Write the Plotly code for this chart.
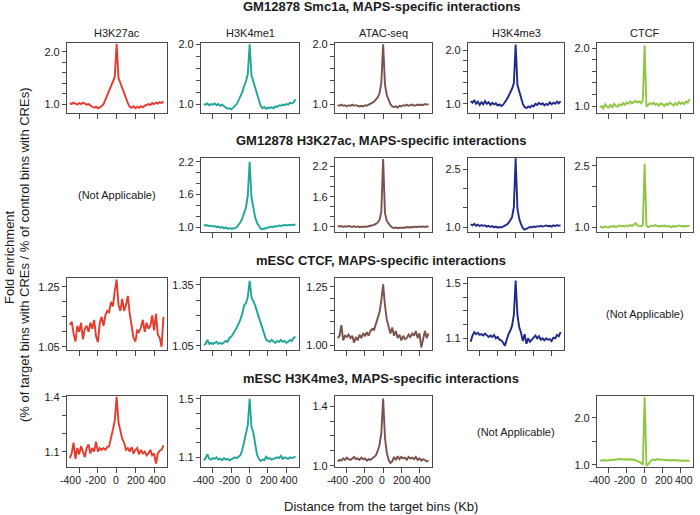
import plotly.graph_objects as go

W, H = 700, 515

# ---------------- data ----------------
x_kb = list(range(-500, 501, 20))
x_tick_vals = [-400, -200, 0, 200, 400]
x_tick_text = ["-400", "-200", "0", "200", "400"]

section_titles = [
    "GM12878 Smc1a, MAPS-specific interactions",
    "GM12878 H3K27ac, MAPS-specific interactions",
    "mESC CTCF, MAPS-specific interactions",
    "mESC H3K4me3, MAPS-specific interactions",
]
column_titles = ["H3K27ac", "H3K4me1", "ATAC-seq", "H3K4me3", "CTCF"]
not_applicable = [(1, 0), (2, 4), (3, 3)]

# GM12878 Smc1a
smc1a_h3k27ac = [1.02, 1.00, 1.03, 1.01, 0.99, 1.02, 1.00, 1.03, 1.01, 0.99, 1.00, 0.97, 0.95, 0.93, 0.95, 0.92, 0.94, 0.96, 1.00, 1.08, 1.17, 1.26, 1.35, 1.43, 1.52, 2.15, 1.50, 1.40, 1.30, 1.20, 1.10, 1.02, 0.95, 0.93, 0.96, 0.92, 0.95, 0.93, 0.96, 0.94, 0.97, 0.99, 1.00, 0.98, 1.02, 1.00, 1.03, 1.01, 1.04, 1.02, 1.05]
smc1a_h3k4me1 = [1.00, 0.99, 1.01, 0.98, 1.00, 0.99, 1.01, 0.98, 1.00, 0.97, 0.99, 0.96, 0.94, 0.92, 0.93, 0.91, 0.95, 0.97, 1.00, 1.06, 1.12, 1.20, 1.30, 1.38, 1.50, 2.00, 1.48, 1.38, 1.28, 1.17, 1.05, 0.97, 0.93, 0.95, 0.92, 0.94, 0.93, 0.95, 0.93, 0.96, 0.95, 0.98, 0.97, 0.99, 0.98, 1.00, 0.99, 1.02, 1.01, 1.03, 1.08]
smc1a_atac = [0.98, 0.97, 0.99, 0.97, 0.98, 0.96, 0.98, 0.97, 0.99, 0.97, 0.98, 0.97, 0.96, 0.97, 0.96, 0.98, 0.97, 0.99, 1.00, 1.02, 1.04, 1.07, 1.11, 1.18, 1.35, 2.00, 1.33, 1.15, 1.06, 1.00, 0.96, 0.95, 0.96, 0.94, 0.97, 0.96, 0.98, 0.97, 0.99, 0.97, 0.98, 0.99, 0.97, 0.98, 0.99, 0.98, 0.99, 0.98, 1.00, 0.99, 1.00]
smc1a_h3k4me3 = [1.05, 1.02, 1.07, 1.00, 1.04, 0.98, 1.03, 0.99, 1.05, 1.00, 1.03, 0.98, 1.02, 0.99, 1.01, 0.97, 0.99, 0.96, 0.98, 1.02, 1.08, 1.14, 1.20, 1.28, 1.38, 2.10, 1.35, 1.22, 1.10, 1.00, 0.94, 0.92, 0.95, 0.93, 0.97, 0.95, 1.00, 0.98, 1.02, 0.99, 1.01, 0.97, 1.00, 0.98, 1.03, 0.99, 1.02, 1.00, 1.04, 1.01, 1.05]
smc1a_ctcf = [0.98, 1.00, 0.96, 1.03, 0.99, 0.97, 1.02, 0.98, 1.04, 1.00, 0.99, 1.03, 1.01, 1.05, 1.02, 1.06, 1.04, 1.08, 1.05, 1.07, 1.09, 1.06, 1.08, 1.05, 1.10, 2.05, 0.99, 1.02, 1.05, 1.03, 1.06, 1.02, 1.04, 1.01, 1.05, 1.03, 1.00, 1.04, 1.02, 1.06, 1.03, 1.01, 1.05, 1.02, 1.07, 1.04, 1.06, 1.03, 1.08, 1.06, 1.12]

# GM12878 H3K27ac
k27_h3k4me1 = [1.04, 1.03, 1.035, 1.02, 1.025, 1.01, 1.02, 1.00, 1.01, 0.99, 1.00, 0.98, 0.99, 0.97, 0.98, 0.97, 0.975, 0.98, 1.00, 1.04, 1.09, 1.16, 1.25, 1.36, 1.58, 2.20, 1.55, 1.32, 1.18, 1.08, 1.02, 0.97, 0.96, 0.97, 0.98, 0.99, 1.00, 1.01, 1.00, 1.02, 1.01, 1.03, 1.02, 1.03, 1.04, 1.03, 1.04, 1.035, 1.045, 1.04, 1.05]
k27_atac = [1.02, 1.01, 1.02, 1.00, 1.015, 1.005, 1.02, 1.01, 1.00, 1.015, 1.00, 1.01, 0.995, 1.005, 1.00, 1.01, 1.00, 1.015, 1.02, 1.03, 1.04, 1.06, 1.09, 1.14, 1.30, 2.35, 1.28, 1.12, 1.06, 1.02, 0.99, 0.98, 0.99, 0.975, 0.985, 0.98, 0.99, 0.985, 1.00, 0.99, 1.00, 0.99, 1.005, 0.995, 1.00, 1.01, 1.00, 1.01, 1.00, 1.01, 1.005]
k27_h3k4me3 = [1.08, 1.05, 1.09, 1.04, 1.07, 1.03, 1.06, 1.04, 1.05, 1.02, 1.04, 1.01, 1.03, 1.00, 1.02, 0.99, 1.01, 1.00, 1.02, 1.04, 1.07, 1.11, 1.17, 1.26, 1.52, 2.78, 1.48, 1.22, 1.08, 0.98, 0.94, 0.96, 0.99, 1.01, 1.00, 1.02, 1.01, 1.03, 1.02, 1.04, 1.02, 1.03, 1.05, 1.03, 1.04, 1.02, 1.05, 1.03, 1.06, 1.04, 1.05]
k27_ctcf = [0.99, 1.01, 0.98, 1.02, 1.00, 0.99, 1.02, 1.01, 1.03, 1.00, 1.02, 1.04, 1.02, 1.03, 1.01, 1.04, 1.02, 1.05, 1.03, 1.06, 1.10, 1.04, 1.03, 1.02, 1.05, 2.55, 1.04, 1.00, 1.02, 1.04, 1.02, 1.05, 1.03, 1.01, 1.03, 1.02, 1.04, 1.01, 1.03, 1.02, 1.00, 1.03, 1.01, 1.02, 1.04, 1.02, 1.03, 1.01, 1.03, 1.02, 1.04]

# mESC CTCF
mctcf_h3k27ac = [1.123, 1.134, 1.095, 1.067, 1.12, 1.10, 1.13, 1.075, 1.11, 1.12, 1.10, 1.13, 1.11, 1.14, 1.085, 1.065, 1.13, 1.15, 1.12, 1.155, 1.17, 1.165, 1.20, 1.185, 1.235, 1.275, 1.19, 1.17, 1.21, 1.17, 1.19, 1.22, 1.16, 1.12, 1.08, 1.067, 1.105, 1.10, 1.115, 1.14, 1.10, 1.13, 1.11, 1.12, 1.155, 1.105, 1.16, 1.09, 1.08, 1.05, 1.15]
mctcf_h3k4me1 = [1.055, 1.06, 1.08, 1.06, 1.065, 1.06, 1.065, 1.07, 1.06, 1.065, 1.06, 1.07, 1.075, 1.07, 1.09, 1.095, 1.11, 1.12, 1.14, 1.16, 1.18, 1.21, 1.25, 1.26, 1.29, 1.37, 1.29, 1.27, 1.25, 1.22, 1.19, 1.16, 1.13, 1.10, 1.08, 1.075, 1.07, 1.08, 1.07, 1.065, 1.075, 1.07, 1.08, 1.07, 1.075, 1.065, 1.07, 1.08, 1.075, 1.09, 1.095]
mctcf_atac = [1.03, 1.04, 1.085, 1.02, 1.04, 1.035, 1.045, 1.03, 1.04, 1.01, 1.035, 1.02, 1.045, 1.03, 1.05, 1.04, 1.055, 1.04, 1.06, 1.07, 1.065, 1.09, 1.11, 1.14, 1.19, 1.26, 1.17, 1.11, 1.08, 1.05, 1.075, 1.04, 1.06, 1.03, 1.045, 1.02, 1.04, 1.025, 1.03, 1.045, 1.035, 1.05, 1.04, 1.06, 1.03, 1.05, 0.99, 1.03, 1.06, 1.03, 1.05]
mctcf_h3k4me3 = [1.075, 1.12, 1.145, 1.13, 1.14, 1.125, 1.13, 1.12, 1.135, 1.125, 1.11, 1.12, 1.11, 1.125, 1.10, 1.11, 1.09, 1.085, 1.07, 1.045, 1.09, 1.13, 1.155, 1.19, 1.27, 1.52, 1.27, 1.18, 1.14, 1.08, 1.13, 1.06, 1.10, 1.075, 1.09, 1.11, 1.12, 1.10, 1.115, 1.09, 1.10, 1.085, 1.10, 1.09, 1.095, 1.08, 1.105, 1.10, 1.125, 1.115, 1.145]

# mESC H3K4me3
mk4_h3k27ac = [1.065, 1.09, 1.15, 1.06, 1.12, 1.085, 1.13, 1.10, 1.07, 1.12, 1.14, 1.09, 1.12, 1.10, 1.155, 1.10, 1.12, 1.11, 1.12, 1.11, 1.125, 1.13, 1.17, 1.22, 1.27, 1.40, 1.26, 1.22, 1.17, 1.15, 1.11, 1.12, 1.10, 1.125, 1.09, 1.11, 1.12, 1.085, 1.11, 1.09, 1.10, 1.08, 1.09, 1.11, 1.08, 1.09, 1.035, 1.09, 1.105, 1.11, 1.135]
mk4_h3k4me1 = [1.08, 1.095, 1.12, 1.09, 1.085, 1.095, 1.09, 1.10, 1.085, 1.09, 1.08, 1.095, 1.085, 1.09, 1.08, 1.085, 1.09, 1.10, 1.095, 1.105, 1.115, 1.15, 1.20, 1.27, 1.32, 1.50, 1.31, 1.27, 1.18, 1.12, 1.09, 1.075, 1.085, 1.08, 1.105, 1.09, 1.095, 1.085, 1.09, 1.095, 1.10, 1.095, 1.11, 1.09, 1.10, 1.095, 1.09, 1.10, 1.095, 1.10, 1.105]
mk4_atac = [1.03, 1.04, 1.035, 1.05, 1.04, 1.055, 1.045, 1.04, 1.05, 1.06, 1.045, 1.05, 1.04, 1.055, 1.045, 1.05, 1.035, 1.045, 1.04, 1.05, 1.06, 1.07, 1.10, 1.14, 1.22, 1.45, 1.19, 1.09, 1.04, 1.02, 1.03, 1.06, 1.04, 1.065, 1.045, 1.06, 1.05, 1.055, 1.04, 1.06, 1.05, 1.055, 1.045, 1.06, 1.04, 1.05, 1.035, 1.045, 1.04, 1.03, 1.035]
mk4_ctcf = [1.08, 1.09, 1.10, 1.09, 1.10, 1.095, 1.10, 1.105, 1.10, 1.11, 1.105, 1.11, 1.12, 1.11, 1.115, 1.12, 1.11, 1.115, 1.10, 1.11, 1.09, 1.08, 1.06, 1.04, 1.00, 2.45, 0.99, 1.01, 1.06, 1.10, 1.11, 1.10, 1.115, 1.11, 1.105, 1.10, 1.11, 1.10, 1.095, 1.10, 1.09, 1.10, 1.095, 1.09, 1.10, 1.09, 1.085, 1.09, 1.08, 1.09, 1.07]

# ---------------- styling ----------------
COL = {
    "H3K27ac": "#e63a2d",
    "H3K4me1": "#1ea699",
    "ATAC-seq": "#7a524a",
    "H3K4me3": "#1f2a8a",
    "CTCF": "#8dc63f",
}
FONT = "Liberation Sans, Arial, Helvetica, sans-serif"
FRAME = "#4a4a4a"
TXT = "#1a1a1a"

col_px = [(67, 167), (201, 299), (335, 432), (468, 564), (597, 693)]
row_px = [(43, 113), (158, 232), (278, 350), (396, 467)]
title_y_px = [7, 140, 260, 378]
x_range = [-530, 538]
label_shift_px = [-9, -2, -1, 1, 3]

panels = [
    dict(r=0, c=0, y=smc1a_h3k27ac, yr=(0.83, 2.17), t0=1.0, dt=1.0, mdt=0.2, fmt=".1f"),
    dict(r=0, c=1, y=smc1a_h3k4me1, yr=(0.85, 2.02), t0=1.0, dt=1.0, mdt=0.2, fmt=".1f"),
    dict(r=0, c=2, y=smc1a_atac, yr=(0.85, 2.02), t0=1.0, dt=1.0, mdt=0.2, fmt=".1f"),
    dict(r=0, c=3, y=smc1a_h3k4me3, yr=(0.83, 2.13), t0=1.0, dt=1.0, mdt=0.2, fmt=".1f"),
    dict(r=0, c=4, y=smc1a_ctcf, yr=(0.88, 2.09), t0=1.0, dt=1.0, mdt=0.2, fmt=".1f"),
    dict(r=1, c=1, y=k27_h3k4me1, yr=(0.91, 2.27), t0=1.0, dt=0.6, mdt=0.2, fmt=".1f"),
    dict(r=1, c=2, y=k27_atac, yr=(0.90, 2.37), t0=1.0, dt=0.6, mdt=0.2, fmt=".1f"),
    dict(r=1, c=3, y=k27_h3k4me3, yr=(0.88, 2.79), t0=1.0, dt=1.5, mdt=0.5, fmt=".1f"),
    dict(r=1, c=4, y=k27_ctcf, yr=(0.88, 2.69), t0=1.0, dt=1.5, mdt=0.5, fmt=".1f"),
    dict(r=2, c=0, y=mctcf_h3k27ac, yr=(1.039, 1.28), t0=1.05, dt=0.2, mdt=0.05, fmt=".2f"),
    dict(r=2, c=1, y=mctcf_h3k4me1, yr=(1.03, 1.384), t0=1.05, dt=0.3, mdt=0.075, fmt=".2f"),
    dict(r=2, c=2, y=mctcf_atac, yr=(0.979, 1.287), t0=1.0, dt=0.25, mdt=0.05, fmt=".2f"),
    dict(r=2, c=3, y=mctcf_h3k4me3, yr=(1.015, 1.539), t0=1.1, dt=0.4, mdt=0.1, fmt=".1f"),
    dict(r=3, c=0, y=mk4_h3k27ac, yr=(1.016, 1.405), t0=1.1, dt=0.3, mdt=0.1, fmt=".1f"),
    dict(r=3, c=1, y=mk4_h3k4me1, yr=(1.034, 1.52), t0=1.1, dt=0.4, mdt=0.1, fmt=".1f"),
    dict(r=3, c=2, y=mk4_atac, yr=(0.993, 1.467), t0=1.0, dt=0.4, mdt=0.1, fmt=".1f"),
    dict(r=3, c=4, y=mk4_ctcf, yr=(0.95, 2.47), t0=1.0, dt=1.0, mdt=0.5, fmt=".1f"),
]

fig = go.Figure()
layout = {}
ann = []
for i, p in enumerate(panels, start=1):
    sfx = "" if i == 1 else str(i)
    x0, x1 = col_px[p["c"]]
    y0, y1 = row_px[p["r"]]
    color = COL[column_titles[p["c"]]]
    fig.add_trace(go.Scatter(
        x=x_kb, y=p["y"], mode="lines",
        line=dict(color=color, width=1.9),
        xaxis="x" + sfx, yaxis="y" + sfx, showlegend=False, hoverinfo="skip",
    ))
    layout["xaxis" + sfx] = dict(
        domain=[x0 / W, x1 / W], anchor="y" + sfx, range=x_range,
        tickmode="array", tickvals=x_tick_vals, showticklabels=False, automargin=False,
        ticks="outside", ticklen=5, tickwidth=1, tickcolor=FRAME,
        showline=True, mirror=True, linecolor=FRAME, linewidth=1.2,
        showgrid=False, zeroline=False,
    )
    layout["yaxis" + sfx] = dict(
        domain=[1 - y1 / H, 1 - y0 / H], anchor="x" + sfx, range=list(p["yr"]),
        tickmode="linear", tick0=p["t0"], dtick=p["dt"], tickformat=p["fmt"],
        ticks="outside", ticklen=4, tickwidth=1, tickcolor=FRAME, automargin=False,
        minor=dict(tick0=p["t0"], dtick=p["mdt"], ticks="outside", ticklen=4,
                   tickwidth=1, tickcolor=FRAME, showgrid=False),
        showline=True, mirror=True, linecolor=FRAME, linewidth=1.2,
        showgrid=False, zeroline=False,
        tickfont=dict(size=11, color=TXT, family=FONT),
    )
    if p["r"] == 3:
        # x tick labels at the axis tick values, spread slightly as in the original
        for v, t, s in zip(x_tick_vals, x_tick_text, label_shift_px):
            ann.append(dict(text=t, x=v, xref="x" + sfx, xshift=s,
                            y=1 - (y1 + 5) / H, yref="paper", yanchor="top",
                            xanchor="center", showarrow=False,
                            font=dict(size=10.5, color=TXT, family=FONT)))

for t, ypx in zip(section_titles, title_y_px):
    ann.append(dict(text="<b>%s</b>" % t, x=381 / W, y=1 - ypx / H, xref="paper", yref="paper",
                    xanchor="center", yanchor="middle", showarrow=False,
                    font=dict(size=13, color=TXT, family=FONT)))
for c, t in enumerate(column_titles):
    x0, x1 = col_px[c]
    ann.append(dict(text=t, x=(x0 + x1) / 2 / W, y=1 - 33 / H, xref="paper", yref="paper",
                    xanchor="center", yanchor="middle", showarrow=False,
                    font=dict(size=11, color=TXT, family=FONT)))
for r, c in not_applicable:
    x0, x1 = col_px[c]
    y0, y1 = row_px[r]
    ann.append(dict(text="(Not Applicable)", x=(x0 + x1) / 2 / W, y=1 - (y0 + y1) / 2 / H,
                    xref="paper", yref="paper", xanchor="center", yanchor="middle",
                    showarrow=False, font=dict(size=11, color=TXT, family=FONT)))
ann.append(dict(text="Distance from the target bins (Kb)", x=381 / W, y=1 - 506 / H,
                xref="paper", yref="paper", xanchor="center", yanchor="middle",
                showarrow=False, font=dict(size=13, color=TXT, family=FONT)))
ann.append(dict(text="Fold enrichment", x=9 / W, y=1 - 257 / H, textangle=-90,
                xref="paper", yref="paper", xanchor="center", yanchor="middle",
                showarrow=False, font=dict(size=13, color=TXT, family=FONT)))
ann.append(dict(text="(% of target bins with CREs / % of control bins with CREs)",
                x=24 / W, y=1 - 255 / H, textangle=-90,
                xref="paper", yref="paper", xanchor="center", yanchor="middle",
                showarrow=False, font=dict(size=13, color=TXT, family=FONT)))

fig.update_layout(
    width=W, height=H, margin=dict(l=0, r=0, t=0, b=0),
    paper_bgcolor="white", plot_bgcolor="white",
    font=dict(family=FONT, color=TXT),
    annotations=ann, **layout,
)
fig.write_html("out.html", config={"displayModeBar": False},
               post_script="document.body.style.margin='0';document.body.style.overflow='hidden';")
